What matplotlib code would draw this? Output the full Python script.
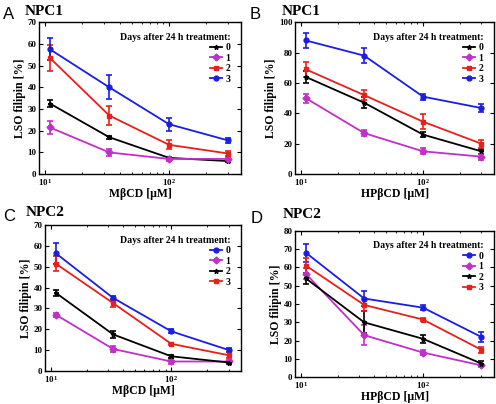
import numpy as np
import matplotlib
matplotlib.use("Agg")
import matplotlib.pyplot as plt
from matplotlib.lines import Line2D

plt.rcParams['font.family'] = 'Liberation Serif'
plt.rcParams['font.weight'] = 'bold'
plt.rcParams['mathtext.default'] = 'bf'

conc = [11, 33, 100, 300]
days = ['0', '1', '2', '3']

# panel A: NPC1, MbCD
A_vals = {'0': [32.5, 17.0, 7.5, 6.0], '1': [21.5, 10.0, 7.0, 7.0],
          '2': [53.5, 27.0, 13.5, 9.5], '3': [57.5, 40.0, 23.0, 15.5]}
A_errs = {'0': [1.5, 0.7, 0.6, 0.6], '1': [3.0, 1.5, 1.0, 1.0],
          '2': [6.0, 4.5, 2.0, 1.0], '3': [5.0, 5.5, 3.0, 1.2]}
# panel B: NPC1, HPbCD
B_vals = {'0': [64.0, 47.0, 26.0, 15.0], '1': [50.0, 27.0, 15.0, 11.5],
          '2': [69.0, 52.0, 34.5, 20.0], '3': [88.0, 78.0, 51.0, 43.5]}
B_errs = {'0': [4.0, 3.5, 1.5, 1.5], '1': [3.0, 2.0, 2.0, 2.0],
          '2': [5.0, 3.5, 5.0, 2.5], '3': [5.0, 5.0, 2.0, 2.5]}
# panel C: NPC2, MbCD
C_vals = {'0': [56.5, 35.0, 19.0, 10.0], '1': [27.0, 10.5, 4.5, 4.5],
          '2': [37.5, 17.5, 7.0, 4.0], '3': [51.5, 32.5, 13.0, 7.5]}
C_errs = {'0': [5.0, 1.0, 1.0, 1.0], '1': [1.0, 1.5, 1.0, 0.5],
          '2': [1.5, 1.5, 0.8, 0.5], '3': [3.5, 2.0, 0.6, 1.5]}
# panel D: NPC2, HPbCD
D_vals = {'0': [68.0, 43.0, 38.0, 22.0], '1': [56.5, 23.0, 13.5, 6.5],
          '2': [54.0, 30.0, 21.0, 7.5], '3': [61.0, 39.5, 31.5, 15.0]}
D_errs = {'0': [5.0, 4.0, 1.5, 2.5], '1': [3.0, 5.5, 1.5, 1.0],
          '2': [3.0, 6.0, 2.0, 1.5], '3': [4.0, 3.5, 1.0, 1.5]}

style1 = {'0': ('k', '*'), '1': ('#c030c8', 'D'), '2': ('#e8201c', 's'), '3': ('#1a1ee0', 'o')}
style2 = {'0': ('#1a1ee0', 'o'), '1': ('#c030c8', 'D'), '2': ('k', '*'), '3': ('#e8201c', 's')}

panels = [
    ('A', 'NPC1', A_vals, A_errs, style1, 'MβCD [μM]', 70, [0.079, 0.569, 0.407, 0.376], (0.006, 0.983), (0.05, 0.988)),
    ('B', 'NPC1', B_vals, B_errs, style1, 'HPβCD [μM]', 100, [0.595, 0.569, 0.401, 0.376], (0.504, 0.983), (0.568, 0.988)),
    ('C', 'NPC2', C_vals, C_errs, style2, 'MβCD [μM]', 70, [0.091, 0.082, 0.395, 0.361], (0.006, 0.482), (0.052, 0.489)),
    ('D', 'NPC2', D_vals, D_errs, style2, 'HPβCD [μM]', 80, [0.595, 0.066, 0.401, 0.363], (0.506, 0.478), (0.57, 0.484)),
]

fig = plt.figure(figsize=(4.96, 4.04), dpi=100)
for letter, title, vals, errs, sty, xlab, ymax, pos, lpos, tpos in panels:
    ax = fig.add_axes(pos)
    handles = []
    for d in days:
        c, m = sty[d]
        ax.errorbar(conc, vals[d], yerr=errs[d], color=c, marker=m, ms=3.5,
                    lw=1.3, capsize=2.5, capthick=1.2, elinewidth=1.2)
        handles.append(Line2D([], [], color=c, marker=m, ms=3.5, lw=1.3, label=d))
    ax.set_xscale('log')
    ax.set_xlim(9, 380)
    ax.set_ylim(0, ymax)
    ax.set_yticks(np.arange(0, ymax + 1, 10 if ymax < 100 else 20))
    ax.tick_params(direction='in', which='both', top=True, right=True, labelsize=6.5, length=3, pad=2)
    ax.tick_params(which='minor', length=1.5)
    ax.set_xlabel(xlab, fontsize=8.5, fontweight='bold', labelpad=0)
    ax.set_ylabel('LSO filipin [%]', fontsize=8.5, fontweight='bold', labelpad=1)
    for s in ax.spines.values():
        s.set_linewidth(1.0)
    leg = ax.legend(handles=handles, title='Days after 24 h treatment:', loc='upper right', frameon=False,
                    fontsize=7, title_fontsize=7, handlelength=1.2, handletextpad=0.4,
                    labelspacing=0.15, borderaxespad=0.7, alignment='right')
    leg.get_title().set_fontweight('bold')
    fig.text(lpos[0], lpos[1], letter, fontsize=12, family='Liberation Sans', fontweight='normal', va='top')
    fig.text(tpos[0], tpos[1], title, fontsize=11, fontweight='bold', va='top')

fig.savefig('out.png', dpi=100)
